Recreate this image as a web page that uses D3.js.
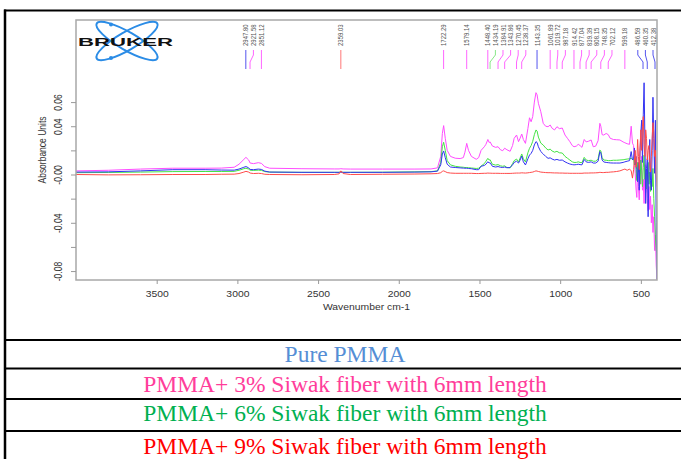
<!DOCTYPE html>
<html>
<head>
<meta charset="utf-8">
<script src="https://cdn.jsdelivr.net/npm/d3@7"></script>
<style>
body { margin: 0; background: #fff; }
svg { display: block; }
</style>
</head>
<body>
<div id="Chart"></div>
<script>
var w = 681;
var h = 459;

// spectra, absorbance units, all on the same wavenumber grid
var wavenumber = [4000, 3800, 3600, 3400, 3200, 3100, 3020, 2990, 2960, 2947,
    2930, 2921, 2900, 2870, 2851, 2830, 2800, 2600, 2400, 2370,
    2359, 2345, 2300, 2100, 1900, 1800, 1760, 1740, 1730, 1722,
    1712, 1700, 1680, 1650, 1620, 1600, 1590, 1579, 1568, 1550,
    1520, 1505, 1490, 1470, 1460, 1448, 1440, 1434, 1420, 1400,
    1385, 1370, 1356, 1344, 1330, 1310, 1295, 1285, 1270, 1258,
    1250, 1238, 1228, 1215, 1200, 1190, 1180, 1170, 1160, 1150,
    1143, 1135, 1120, 1105, 1090, 1075, 1062, 1050, 1035, 1020,
    1005, 987, 970, 955, 940, 925, 914, 900, 888, 877,
    865, 851, 839, 825, 808, 795, 780, 765, 754, 748,
    740, 730, 715, 702, 690, 670, 650, 630, 610, 599,
    585, 570, 560, 552, 545, 540, 535, 530, 525, 520,
    515, 510, 505, 500, 495, 490, 485, 480, 475, 470,
    465, 460, 455, 450, 445, 440, 435, 430, 425, 420,
    415, 410, 405, 400];

var purePMMA = [0.0020, 0.0022, 0.0030, 0.0040, 0.0040, 0.0037, 0.0036, 0.0045, 0.0060, 0.0066,
    0.0055, 0.0042, 0.0040, 0.0045, 0.0042, 0.0028, 0.0020, 0.0018, 0.0018, 0.0018,
    0.0019, 0.0018, 0.0018, 0.0018, 0.0020, 0.0022, 0.0028, 0.0080, 0.0170, 0.0195,
    0.0140, 0.0085, 0.0062, 0.0058, 0.0055, 0.0053, 0.0052, 0.0052, 0.0050, 0.0048,
    0.0040, 0.0040, 0.0068, 0.0075, 0.0085, 0.0106, 0.0095, 0.0098, 0.0068, 0.0062,
    0.0066, 0.0060, 0.0058, 0.0062, 0.0056, 0.0058, 0.0080, 0.0100, 0.0110, 0.0095,
    0.0115, 0.0153, 0.0105, 0.0079, 0.0130, 0.0161, 0.0175, 0.0200, 0.0245, 0.0272,
    0.0265, 0.0230, 0.0190, 0.0170, 0.0150, 0.0134, 0.0138, 0.0128, 0.0120, 0.0125,
    0.0118, 0.0120, 0.0105, 0.0095, 0.0087, 0.0082, 0.0080, 0.0082, 0.0085, 0.0082,
    0.0080, 0.0125, 0.0105, 0.0100, 0.0105, 0.0095, 0.0095, 0.0110, 0.0189, 0.0180,
    0.0120, 0.0104, 0.0100, 0.0098, 0.0096, 0.0095, 0.0095, 0.0095, 0.0100, 0.0105,
    0.0110, 0.0115, 0.0190, 0.0120, 0.013, 0.022, 0.008, 0.015, 0.004, -0.006,
    0.010, -0.013, 0.020, 0.035, 0.045, 0.010, 0.050, 0.076, 0.030, -0.024,
    0.005, 0.013, -0.035, 0.000, 0.029, -0.005, -0.013, 0.020, 0.064, 0.030,
    0.001, 0.045, -0.040, -0.087];

var siwak3 = [0.0030, 0.0035, 0.0045, 0.0052, 0.0052, 0.0053, 0.0060, 0.0085, 0.0125, 0.0142,
    0.0120, 0.0095, 0.0090, 0.0098, 0.0092, 0.0065, 0.0052, 0.0048, 0.0046, 0.0046,
    0.0048, 0.0046, 0.0045, 0.0045, 0.0045, 0.0046, 0.0055, 0.0150, 0.0340, 0.0405,
    0.0300, 0.0200, 0.0150, 0.0135, 0.0132, 0.0140, 0.0185, 0.0258, 0.0200, 0.0150,
    0.0126, 0.0140, 0.0200, 0.0230, 0.0250, 0.0290, 0.0265, 0.0270, 0.0236, 0.0225,
    0.0230, 0.0205, 0.0197, 0.0218, 0.0205, 0.0192, 0.0240, 0.0300, 0.0327, 0.0272,
    0.0295, 0.0335, 0.0290, 0.0258, 0.0380, 0.0470, 0.0437, 0.0480, 0.0600, 0.0678,
    0.0660, 0.0590, 0.0520, 0.0424, 0.0400, 0.0396, 0.0410, 0.0383, 0.0369, 0.0396,
    0.0380, 0.0385, 0.0327, 0.0300, 0.0272, 0.0240, 0.0230, 0.0235, 0.0250, 0.0240,
    0.0225, 0.0290, 0.0270, 0.0275, 0.0286, 0.0230, 0.0235, 0.0280, 0.0424, 0.0400,
    0.0330, 0.0327, 0.0340, 0.0330, 0.0300, 0.0290, 0.0288, 0.0286, 0.0270, 0.0263,
    0.0255, 0.0250, 0.0400, 0.0260, 0.024, 0.010, 0.001, -0.012, -0.019, 0.005,
    -0.010, -0.021, 0.002, -0.008, 0.015, -0.013, -0.004, -0.024, 0.008, -0.015,
    0.001, -0.020, -0.030, -0.010, -0.029, -0.018, -0.040, -0.025, -0.048, -0.035,
    -0.063, -0.050, -0.075, -0.087];

var siwak6 = [0.0015, 0.0017, 0.0020, 0.0024, 0.0025, 0.0025, 0.0026, 0.0035, 0.0048, 0.0052,
    0.0045, 0.0035, 0.0034, 0.0036, 0.0034, 0.0024, 0.0020, 0.0018, 0.0018, 0.0018,
    0.0022, 0.0018, 0.0018, 0.0019, 0.0022, 0.0024, 0.0030, 0.0100, 0.0230, 0.0267,
    0.0200, 0.0115, 0.0080, 0.0068, 0.0062, 0.0060, 0.0058, 0.0058, 0.0056, 0.0054,
    0.0050, 0.0052, 0.0070, 0.0090, 0.0110, 0.0134, 0.0120, 0.0122, 0.0085, 0.0078,
    0.0082, 0.0072, 0.0068, 0.0072, 0.0058, 0.0055, 0.0090, 0.0115, 0.0128, 0.0104,
    0.0130, 0.0170, 0.0130, 0.0104, 0.0180, 0.0217, 0.0240, 0.0275, 0.0330, 0.0369,
    0.0360, 0.0310, 0.0260, 0.0244, 0.0220, 0.0203, 0.0210, 0.0195, 0.0185, 0.0192,
    0.0180, 0.0178, 0.0150, 0.0135, 0.0120, 0.0105, 0.0100, 0.0100, 0.0105, 0.0100,
    0.0098, 0.0142, 0.0120, 0.0115, 0.0118, 0.0110, 0.0110, 0.0130, 0.0203, 0.0195,
    0.0140, 0.0120, 0.0118, 0.0115, 0.0115, 0.0118, 0.0118, 0.0120, 0.0122, 0.0125,
    0.0128, 0.0130, 0.0135, 0.0125, 0.013, 0.008, 0.015, 0.004, -0.005, 0.010,
    0.002, 0.008, -0.008, 0.012, 0.003, -0.010, 0.006, 0.016, -0.004, 0.004,
    -0.012, 0.000, 0.010, -0.008, 0.002, -0.014, -0.004, -0.010, 0.005, -0.020,
    -0.035, -0.050, -0.063, -0.065];

var siwak9 = [0.0000, -0.0003, -0.0002, 0.0000, 0.0000, 0.0002, 0.0003, 0.0008, 0.0020, 0.0026,
    0.0020, 0.0012, 0.0008, 0.0010, 0.0008, 0.0002, 0.0000, -0.0002, 0.0000, 0.0005,
    0.0030, 0.0008, 0.0000, 0.0002, 0.0004, 0.0006, 0.0008, 0.0015, 0.0026, 0.0030,
    0.0024, 0.0016, 0.0012, 0.0010, 0.0010, 0.0010, 0.0010, 0.0010, 0.0010, 0.0010,
    0.0008, 0.0008, 0.0009, 0.0010, 0.0010, 0.0012, 0.0011, 0.0011, 0.0010, 0.0010,
    0.0010, 0.0009, 0.0009, 0.0009, 0.0009, 0.0009, 0.0010, 0.0011, 0.0012, 0.0012,
    0.0012, 0.0014, 0.0013, 0.0012, 0.0014, 0.0016, 0.0018, 0.0020, 0.0025, 0.0030,
    0.0028, 0.0025, 0.0020, 0.0018, 0.0016, 0.0015, 0.0015, 0.0014, 0.0013, 0.0013,
    0.0012, 0.0012, 0.0011, 0.0011, 0.0010, 0.0010, 0.0010, 0.0010, 0.0010, 0.0010,
    0.0010, 0.0012, 0.0012, 0.0012, 0.0013, 0.0013, 0.0014, 0.0015, 0.0018, 0.0017,
    0.0016, 0.0016, 0.0018, 0.0018, 0.0020, 0.0022, 0.0025, 0.0030, 0.0040, 0.0045,
    0.0035, 0.0045, 0.0030, -0.0030, 0.004, 0.012, 0.020, 0.006, 0.010, 0.029,
    0.015, 0.004, 0.022, 0.037, 0.020, 0.040, 0.048, 0.025, 0.015, 0.037,
    0.030, 0.012, 0.020, 0.024, 0.010, 0.002, 0.015, 0.030, 0.043, 0.035,
    0.015, 0.020, 0.000, -0.010];

// peak picks shown at the top of the plot
var peakWn = [2947.80, 2921.58, 2851.12, 2359.03, 1722.29, 1579.14, 1448.40, 1434.19,
    1384.91, 1343.86, 1270.45, 1238.37, 1143.35, 1061.89, 1019.72, 987.18, 914.42,
    877.04, 839.39, 808.15, 748.35, 702.12, 599.18, 486.59, 460.35, 412.38];
var peakSeries = ["pure", "p3", "p3", "p9", "p3", "p3", "p3", "p6",
    "p3", "p3", "p3", "p3", "pure", "p3", "p3", "p3", "p3",
    "p3", "p3", "p3", "p3", "p3", "p3", "pure", "pure", "pure"];

var xTicks = [3500, 3000, 2500, 2000, 1500, 1000, 500];
var yTicks = [-0.08, -0.06, -0.04, -0.02, 0, 0.02, 0.04, 0.06];
var yTickLabels = ["-0.08", "", "-0.04", "", "-0.00", "", "0.04", "0.06"];

var legendRows = ["Pure PMMA",
    "PMMA+ 3% Siwak fiber with 6mm length",
    "PMMA+ 6% Siwak fiber with 6mm length",
    "PMMA+ 9% Siwak fiber with 6mm length"];

var lineColor = { pure: "#3333f2", p3: "#ff4cff", p6: "#44e444", p9: "#ff4a4a" };
var tickColor = { pure: "#5555ee", p3: "#ff66ff", p6: "#88e888", p9: "#ff7777" };
var rowColor = ["#558ed5", "#ff3d9a", "#00b050", "#ff0000"];

var plot = { left: 76, right: 657, top: 20, bottom: 280 };
var stretch = 1.22; // the chart picture is a bit wider than tall

function doChart()
{
    var svg = d3.select("#Chart").append("svg")
        .attr("width", w)
        .attr("height", h)
        .style("font-family", "'Liberation Sans', Arial, sans-serif");

    var x = d3.scaleLinear().domain([4000, 400]).range([plot.left, plot.right]);
    var y = d3.scaleLinear().domain([-0.0874, 0.128]).range([plot.bottom, plot.top]);

    svg.append("clipPath").attr("id", "clip")
        .append("rect")
        .attr("x", plot.left).attr("y", plot.top)
        .attr("width", plot.right - plot.left)
        .attr("height", plot.bottom - plot.top);

    // spectra
    var line = d3.line()
        .x(function(d, i){ return x(wavenumber[i]); })
        .y(function(d){ return y(d); });

    var series = [["p3", siwak3], ["p6", siwak6], ["pure", purePMMA], ["p9", siwak9]];
    var spec = svg.append("g").attr("clip-path", "url(#clip)");
    spec.selectAll("path")
        .data(series)
        .enter()
        .append("path")
        .attr("d", function(d){ return line(d[1]); })
        .attr("fill", "none")
        .attr("stroke", function(d){ return lineColor[d[0]]; })
        .attr("stroke-width", 1)
        .attr("stroke-linejoin", "round");

    // frame
    svg.append("rect")
        .attr("x", plot.left).attr("y", plot.top)
        .attr("width", plot.right - plot.left)
        .attr("height", plot.bottom - plot.top)
        .attr("fill", "none")
        .attr("stroke", "#a8a8a8")
        .attr("stroke-width", 1.5);

    // x axis
    var xAxis = svg.append("g")
        .attr("transform", "translate(0," + plot.bottom + ")")
        .call(d3.axisBottom(x).tickValues(xTicks).tickFormat(d3.format("d"))
            .tickSize(4).tickPadding(0).tickSizeOuter(0));
    xAxis.select(".domain").remove();
    xAxis.selectAll("line").attr("stroke", "#999");
    xAxis.selectAll("text")
        .attr("y", 0).attr("dy", null)
        .attr("transform", "translate(0,17) scale(" + stretch + ",1)")
        .attr("fill", "#333")
        .style("font-size", "8.5px");

    svg.append("text")
        .attr("transform", "translate(" + (plot.left + plot.right) / 2 + ",309.5) scale(" + stretch + ",1)")
        .attr("text-anchor", "middle")
        .attr("fill", "#333")
        .style("font-size", "8.5px")
        .text("Wavenumber cm-1");

    // y axis
    var yAxis = svg.append("g")
        .attr("transform", "translate(" + plot.left + ",0)")
        .call(d3.axisLeft(y).tickValues(yTicks).tickSize(5).tickFormat(function(d, i){
            return yTickLabels[i];
        }).tickSizeOuter(0));
    yAxis.select(".domain").remove();
    yAxis.selectAll("line").attr("stroke", "#999");
    yAxis.selectAll("text")
        .attr("x", 0).attr("dy", null)
        .attr("text-anchor", "middle")
        .attr("transform", "translate(-14,0) scale(" + stretch + ",1) rotate(-90)")
        .attr("fill", "#333")
        .style("font-size", "8.5px");

    svg.append("text")
        .attr("transform", "translate(45.5," + (plot.top + plot.bottom) / 2 + ") scale(" + stretch + ",1) rotate(-90)")
        .attr("text-anchor", "middle")
        .attr("fill", "#333")
        .style("font-size", "8.5px")
        .text("Absorbance Units");

    // peak labels, spread so they don't collide
    var gap = 7.6;
    var lx = peakWn.map(function(d){ return x(d); });
    for (var i = 1; i < lx.length; i++) {
        lx[i] = Math.max(lx[i], lx[i - 1] + gap);
    }
    lx[lx.length - 1] = Math.min(lx[lx.length - 1], 653);
    for (var j = lx.length - 2; j >= 0; j--) {
        lx[j] = Math.min(lx[j], lx[j + 1] - gap);
    }

    var peaks = svg.append("g").attr("class", "Peaks");
    peaks.selectAll("path")
        .data(peakWn)
        .enter()
        .append("path")
        .attr("d", function(d, i){
            return "M" + lx[i] + ",50 L" + lx[i] + ",55 L" + x(d) + ",62 L" + x(d) + ",69";
        })
        .attr("fill", "none")
        .attr("stroke", function(d, i){ return tickColor[peakSeries[i]]; })
        .attr("stroke-width", 1);

    peaks.selectAll("text")
        .data(peakWn)
        .enter()
        .append("text")
        .text(function(d){ return d.toFixed(2); })
        .attr("transform", function(d, i){
            return "translate(" + (lx[i] + 2.6) + ",46) scale(" + stretch + ",1) rotate(-90)";
        })
        .attr("fill", "#555")
        .style("font-size", "6px");

    // Bruker logo
    var logo = svg.append("g").attr("class", "Logo");
    [30, -30].forEach(function(a){
        logo.append("ellipse")
            .attr("cx", 0).attr("cy", 0).attr("rx", 35).attr("ry", 9)
            .attr("transform", "translate(127,41) rotate(" + a + ")")
            .attr("fill", "none")
            .attr("stroke", "#2b8ce6")
            .attr("stroke-width", 2);
    });
    [[111, 24.5], [111, 58]].forEach(function(p){
        logo.append("circle").attr("cx", p[0]).attr("cy", p[1]).attr("r", 2).attr("fill", "#2b8ce6");
    });
    logo.append("text")
        .attr("x", 78).attr("y", 45.5)
        .attr("textLength", 95)
        .attr("lengthAdjust", "spacingAndGlyphs")
        .style("font-size", "11px")
        .style("font-weight", "bold")
        .attr("fill", "#111")
        .text("BRUKER");

    // table around the picture
    var lineY = [340, 368.5, 399, 431];
    var textY = [362, 392, 421, 453.5];
    var table = svg.append("g").attr("class", "Table");
    table.append("line")
        .attr("x1", 4).attr("x2", w).attr("y1", 10.5).attr("y2", 10.5)
        .attr("stroke", "#000").attr("stroke-width", 2);
    table.append("line")
        .attr("x1", 5).attr("x2", 5).attr("y1", 9.5).attr("y2", h)
        .attr("stroke", "#000").attr("stroke-width", 2.5);
    table.selectAll("line.row")
        .data(lineY)
        .enter()
        .append("line")
        .attr("class", "row")
        .attr("x1", 4).attr("x2", w)
        .attr("y1", function(d){ return d; })
        .attr("y2", function(d){ return d; })
        .attr("stroke", "#000").attr("stroke-width", 2);

    table.selectAll("text")
        .data(legendRows)
        .enter()
        .append("text")
        .text(function(d){ return d; })
        .attr("x", 345)
        .attr("y", function(d, i){ return textY[i]; })
        .attr("text-anchor", "middle")
        .attr("fill", function(d, i){ return rowColor[i]; })
        .style("font-family", "'Liberation Serif', 'Times New Roman', serif")
        .style("font-size", "23.5px");
}

doChart();
</script>
</body>
</html>
